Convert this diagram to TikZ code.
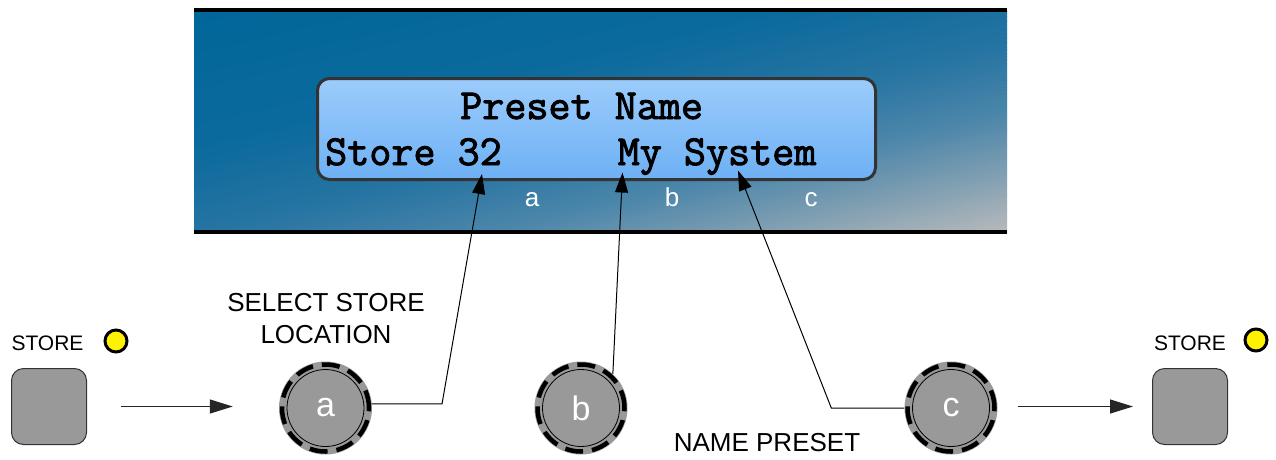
\documentclass[tikz,border=0pt]{standalone}
\usepackage{fontspec}
\setmainfont{Liberation Sans}
\newfontfamily\lcdfont[FakeBold=2.2]{Latin Modern Mono}
\usetikzlibrary{arrows.meta}
\definecolor{pz0}{HTML}{006699}
\definecolor{pz1}{HTML}{0B6A9D}
\definecolor{pz2}{HTML}{2674A2}
\definecolor{pz3}{HTML}{4C86AA}
\definecolor{pz4}{HTML}{82A0B2}
\definecolor{pz5}{HTML}{BCBCBC}
\definecolor{lcdtop}{HTML}{9CCCFC}
\definecolor{lcdbot}{HTML}{6DB0F4}
\definecolor{knobgray}{HTML}{999999}
\definecolor{edgegray}{HTML}{333333}
\tikzset{
 knob/.style={circle, fill=knobgray, minimum size=93pt, inner sep=0pt, text=white, font=\fontsize{34}{34}\selectfont},
 storebtn/.style={rounded corners=12pt, fill=knobgray, draw=edgegray, line width=1pt, minimum width=75pt, minimum height=76pt, inner sep=0pt},
 led/.style={circle, fill=yellow, draw=black, line width=3pt, minimum size=22pt, inner sep=0pt},
 lbl/.style={font=\fontsize{26}{32}\selectfont, align=center, inner sep=0pt},
 smalllbl/.style={font=\fontsize{21}{21}\selectfont, inner sep=0pt},
 lcdtxt/.style={font=\lcdfont\fontsize{42.86}{42.86}\selectfont, anchor=base west, inner sep=0pt},
 chanlbl/.style={text=white, font=\fontsize{26}{26}\selectfont, inner sep=0pt, anchor=base},
 flowarrow/.style={-{Triangle[length=23pt,width=14pt]}, line width=1.2pt, draw=black!85},
 pointer/.style={-{Triangle[length=20pt,width=13pt]}, line width=1pt},
}
\begin{document}
\begin{tikzpicture}[x=1pt,y=-1pt]
\useasboundingbox (0,0) rectangle (1276,459);
% panel background gradient
\begin{scope}
\clip (194,10) rectangle (1007,232);
\begin{scope}[shift={(600.5,121)}, rotate=13]
\fill[pz0] (-700,-300) rectangle (700,-205.5);
\fill[pz5] (-700,205) rectangle (700,300);
\foreach \sa/\sb/\ca/\cb in {0/140/pz0/pz1,140/225/pz1/pz2,225/290/pz2/pz3,290/350/pz3/pz4,350/411/pz4/pz5}{
 \foreach \k in {0,...,19}{
  \pgfmathsetmacro\ya{-206+\sa+(\sb-\sa)*\k/20}
  \pgfmathsetmacro\yb{\ya+(\sb-\sa)/20+0.8}
  \pgfmathsetmacro\pct{100*(\k+0.5)/20}
  \fill[\cb!\pct!\ca] (-700,\ya) rectangle (700,\yb);
 }
}
\end{scope}
\end{scope}
\draw[line width=3.5pt] (194,10) -- (1007,10);
\draw[line width=3.5pt] (194,232) -- (1007,232);
% LCD
\node[draw=edgegray, line width=3pt, rounded corners=12pt, top color=lcdtop, bottom color=lcdbot, minimum width=558pt, minimum height=101pt, inner sep=0pt] (lcd) at (596.5,129) {};
\node[lcdtxt] (t1) at (460,119) {Preset Name};
\node[lcdtxt] (t2) at (325,165) {Store 32};
\node[lcdtxt] (t3) at (617.5,165) {My System};
\node[chanlbl] (la) at (532,206.5) {a};
\node[chanlbl] (lb) at (672,206.5) {b};
\node[chanlbl] (lc) at (811,206.5) {c};
% knobs
\foreach \n/\x/\t in {ka/325.5/a,kb/581/b,kc/951/c}{
 \node[knob] (\n) at (\x,408) {\t};
 \draw[line width=0.8pt] (\n.center) circle (38.5pt);
 \draw[line width=4.5pt, dash pattern=on 18pt off 9pt] (\n.center) circle (43.5pt);
}
% store buttons and leds
\node[storebtn] (btnL) at (49,406.5) {};
\node[storebtn] (btnR) at (1190,406.5) {};
\node[led] (ledL) at (116,341) {};
\node[led] (ledR) at (1256,340) {};
\node[smalllbl] (sL) at (47.5,343) {STORE};
\node[smalllbl] (sR) at (1190,343) {STORE};
% labels
\node[lbl] (sel) at (326,319) {SELECT STORE\\LOCATION};
\node[lbl] (np) at (767,443) {NAME PRESET};
% connectors
\coordinate (tipa) at (482,174);
\coordinate (tipb) at (622.5,172.5);
\coordinate (tipc) at (738,170.5);
\draw[pointer] (ka.5) -- ++(70,0) -- (tipa);
\draw[pointer] (kb.47) -- (tipb);
\draw[pointer] (kc.west) -- ++(-73,0) -- (tipc);
\draw[flowarrow, shorten <=33.5pt, shorten >=46pt] (btnL.east) -- (btnL.east -| ka.west);
\draw[flowarrow, shorten <=20.5pt, shorten >=19pt] (btnR.west -| kc.east) -- (btnR.west);
\end{tikzpicture}
\end{document}
